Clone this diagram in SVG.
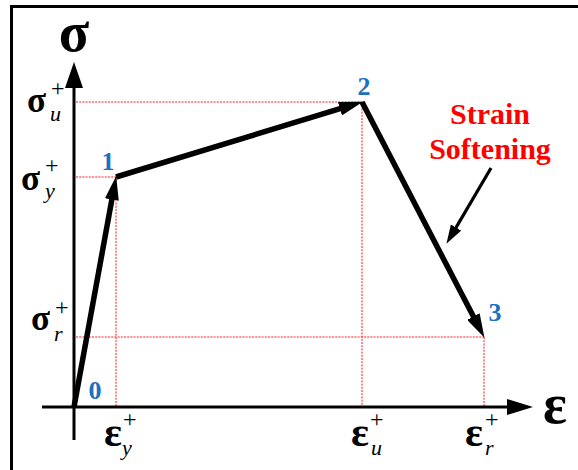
<svg xmlns="http://www.w3.org/2000/svg" width="578" height="470" viewBox="0 0 578 470">
<defs>
<style>
.frame{stroke:#000;stroke-width:3;fill:none}
.axis{stroke:#000;stroke-width:3;fill:none}
.seg{stroke:#000;stroke-width:5.5;fill:none;stroke-linecap:butt}
.thin{stroke:#000;stroke-width:3.2;fill:none}
.dot{stroke:#ff1a1a;stroke-width:1;stroke-dasharray:2 1.2;fill:none}
.num{font-family:"Liberation Serif",serif;font-weight:bold;font-size:26px;fill:#1b70c0;text-anchor:middle}
.red{font-family:"Liberation Serif",serif;font-weight:bold;font-size:30px;fill:#ff0000;text-anchor:middle}
.g{font-family:"Liberation Serif",serif;font-weight:bold;fill:#000}
.it{font-family:"Liberation Serif",serif;font-style:italic;font-size:22px;fill:#000}
.sup{font-family:"Liberation Serif",serif;font-size:24px;fill:#000}
</style>
<marker id="ah" viewBox="0 -7 24 14" refX="13" refY="0" markerWidth="24" markerHeight="14" markerUnits="userSpaceOnUse" orient="auto">
<path d="M0,-7 L24,0 L0,7 z" fill="#000"/>
</marker>
<marker id="ahs" viewBox="0 -6 19 12" refX="10" refY="0" markerWidth="19" markerHeight="12" markerUnits="userSpaceOnUse" orient="auto">
<path d="M0,-6 L19,0 L0,6 z" fill="#000"/>
</marker>
</defs>
<g id="frame">
<line class="frame" x1="11.5" y1="5" x2="11.5" y2="470"/>
<line class="frame" x1="10" y1="6.5" x2="578" y2="6.5"/>
</g>
<g id="guides">
<line class="dot" x1="76" y1="102" x2="362" y2="102"/>
<line class="dot" x1="76" y1="177" x2="116" y2="177"/>
<line class="dot" x1="76" y1="337" x2="484" y2="337"/>
<line class="dot" x1="116" y1="177" x2="116" y2="406"/>
<line class="dot" x1="362" y1="102" x2="362" y2="406"/>
<line class="dot" x1="484" y1="337" x2="484" y2="406"/>
</g>
<g id="axes">
<line class="axis" x1="74" y1="440" x2="74" y2="85"/>
<polygon points="74,62 65,88 83,88" fill="#000"/>
<line class="axis" x1="42" y1="407" x2="510" y2="407"/>
<polygon points="533,407 507,399 507,415" fill="#000"/>
<text class="g" x="74" y="51" font-size="56" text-anchor="middle">σ</text>
<text class="g" x="555" y="423" font-size="56" text-anchor="middle">ε</text>
</g>
<g id="connectors">
<line class="seg" x1="74" y1="407" x2="114.2" y2="186.8" marker-end="url(#ah)"/>
<line class="seg" x1="116" y1="177" x2="352.4" y2="104.9" marker-end="url(#ah)"/>
<line class="seg" x1="362" y1="102" x2="479.4" y2="328.1" marker-end="url(#ah)"/>
<line class="thin" x1="491" y1="168" x2="451" y2="236.1" marker-end="url(#ahs)"/>
</g>
<g id="node0"><text class="num" x="95" y="399">0</text></g>
<g id="node1"><text class="num" x="108" y="170">1</text></g>
<g id="node2"><text class="num" x="364" y="95">2</text></g>
<g id="node3"><text class="num" x="495" y="321">3</text></g>
<g id="note">
<text class="red" x="490" y="124">Strain</text>
<text class="red" x="490" y="159">Softening</text>
</g>
<g id="ylabels">
<text class="g" x="27" y="112" font-size="35">σ</text>
<text class="sup" x="51" y="96">+</text>
<text class="it" x="50" y="121">u</text>
<text class="g" x="21" y="190" font-size="35">σ</text>
<text class="sup" x="45" y="173">+</text>
<text class="it" x="45" y="198">y</text>
<text class="g" x="31" y="330" font-size="35">σ</text>
<text class="sup" x="55" y="315">+</text>
<text class="it" x="54" y="341">r</text>
</g>
<g id="xlabels">
<text class="g" x="104" y="446" font-size="42">ε</text>
<text class="sup" x="123" y="427">+</text>
<text class="it" x="122" y="455">y</text>
<text class="g" x="351" y="446" font-size="42">ε</text>
<text class="sup" x="370" y="427">+</text>
<text class="it" x="371" y="455">u</text>
<text class="g" x="465" y="446" font-size="42">ε</text>
<text class="sup" x="485" y="427">+</text>
<text class="it" x="485" y="455">r</text>
</g>
</svg>
